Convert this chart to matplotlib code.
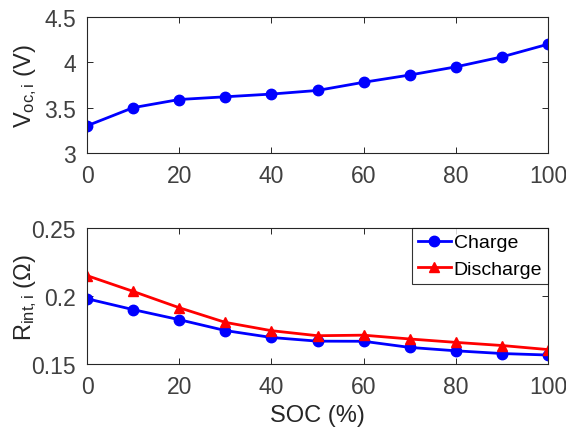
import numpy as np
import matplotlib
matplotlib.use("Agg")
import matplotlib.pyplot as plt

plt.rcParams['font.family'] = ['Liberation Sans', 'DejaVu Sans']
plt.rcParams['mathtext.fontset'] = 'custom'
plt.rcParams['mathtext.rm'] = 'Liberation Sans'
plt.rcParams['mathtext.it'] = 'Liberation Sans'

soc = [0, 10, 20, 30, 40, 50, 60, 70, 80, 90, 100]
voc = [3.30, 3.50, 3.59, 3.62, 3.65, 3.69, 3.78, 3.86, 3.95, 4.06, 4.20]
r_charge = [0.198, 0.190, 0.1826, 0.1746, 0.1695, 0.1668, 0.1667, 0.1622, 0.1597, 0.1577, 0.1566]
r_discharge = [0.215, 0.2034, 0.1914, 0.1806, 0.1745, 0.1708, 0.1712, 0.1684, 0.1659, 0.1636, 0.1606]

tick_color = '#404040'
W, H = 566, 435

fig = plt.figure(figsize=(W/100, H/100), dpi=100)
# axes boxes measured in pixels from the reference
ax1 = fig.add_axes([87/W, 1-154/H, 461/W, 136/H])
ax2 = fig.add_axes([87/W, 1-365/H, 461/W, 136/H])

ax1.plot(soc, voc, '-o', color='#0000ff', lw=2, markersize=7.5)
ax1.set_ylim(3, 4.5)
ax1.set_yticks([3, 3.5, 4, 4.5])
ax1.set_yticklabels(['3', '3.5', '4', '4.5'])
ax1.set_ylabel(r'V$_{\mathrm{oc,i}}$ (V)', fontsize=17, color='#262626')

ax2.plot(soc, r_charge, '-o', color='#0000ff', lw=2, markersize=7.5, label='Charge')
ax2.plot(soc, r_discharge, '-^', color='#ff0000', lw=2, markersize=7.5, label='Discharge')
ax2.set_ylim(0.15, 0.25)
ax2.set_yticks([0.15, 0.2, 0.25])
ax2.set_yticklabels(['0.15', '0.2', '0.25'])
ax2.set_ylabel(r'R$_{\mathrm{int,i}}$ ($\Omega$)', fontsize=17, color='#262626')
ax2.set_xlabel('SOC (%)', fontsize=17, color='#262626', labelpad=4)
leg = ax2.legend(loc='upper right', fontsize=14, frameon=True, fancybox=False, edgecolor='black',
                 borderpad=0.3, handlelength=1.7, handletextpad=0.15, labelspacing=0.45,
                 borderaxespad=0)
leg.get_frame().set_linewidth(0.8)

for ax in (ax1, ax2):
    ax.set_xlim(0, 100)
    ax.set_xticks([0, 20, 40, 60, 80, 100])
    ax.tick_params(direction='in', top=True, right=True, labelsize=16.5, labelcolor=tick_color,
                   length=4, width=0.7, color='#262626')
    ax.tick_params(axis='x', pad=8)
    ax.tick_params(axis='y', pad=8)
    ax.yaxis.set_label_coords(-0.105, 0.5)
    for s in ax.spines.values():
        s.set_linewidth(0.8)
        s.set_color('#262626')

fig.savefig('out.png', dpi=100)
